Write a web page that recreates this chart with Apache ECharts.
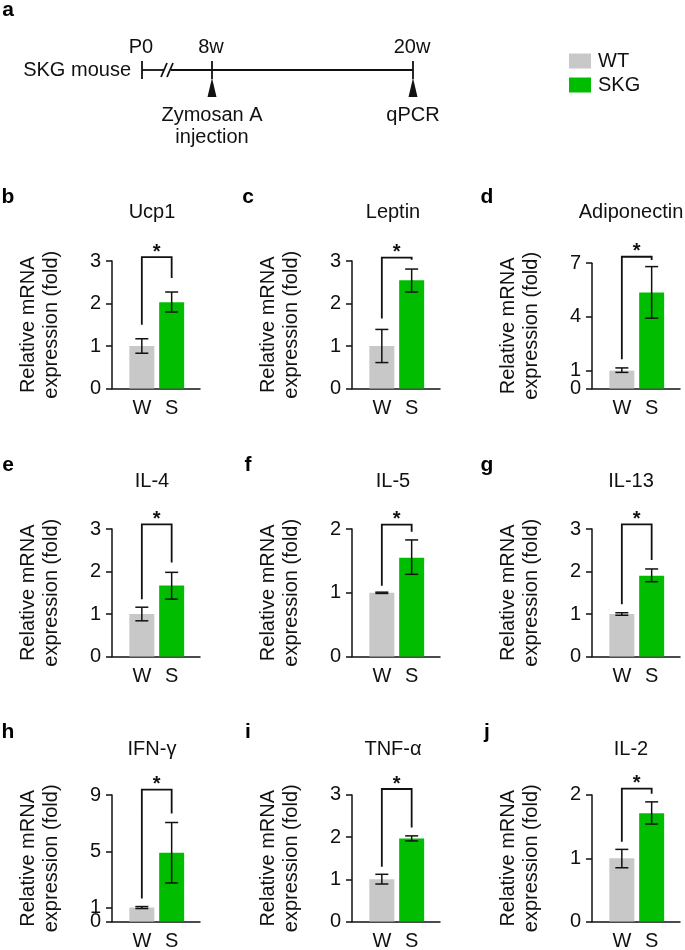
<!DOCTYPE html>
<html>
<head>
<meta charset="utf-8">
<script src="https://cdn.jsdelivr.net/npm/echarts@6/dist/echarts.min.js"></script>
<style>
html,body{margin:0;padding:0;background:#fff;}
#chart{width:685px;height:950px;}
</style>
</head>
<body>
<div id="chart"></div>
<script>
// ---------- data ----------
const genes = ['Ucp1','Leptin','Adiponectin','IL-4','IL-5','IL-13','IFN-γ','TNF-α','IL-2'];
const panelLetters = ['b','c','d','e','f','g','h','i','j'];
const groups = ['WT','SKG'];
const xLabels = ['W','S'];
const wtMean    = [1.00,1.00,1.00,1.00,1.00,1.00,1.00,1.00,1.00];
const wtErrLow  = [0.83,0.61,0.90,0.84,0.99,0.97,0.93,0.89,0.85];
const wtErrHigh = [1.17,1.39,1.15,1.16,1.01,1.03,1.07,1.12,1.14];
const skgMean    = [2.03,2.55,5.36,1.67,1.55,1.90,4.89,1.97,1.71];
const skgErrLow  = [1.80,2.27,3.93,1.35,1.29,1.76,2.75,1.91,1.54];
const skgErrHigh = [2.27,2.81,6.81,1.98,1.83,2.06,7.05,2.03,1.89];
const yMax   = [3,3,7,3,2,3,9,3,2];
const yTicks = [[0,1,2,3],[0,1,2,3],[0,1,4,7],[0,1,2,3],[0,1,2],[0,1,2,3],[0,1,5,9],[0,1,2,3],[0,1,2]];
// significance brackets: top level, left drop end, right drop end
const bracketTop   = [3.09,3.08,7.36,3.11,2.07,3.11,9.39,3.14,2.10];
const bracketLeft  = [1.50,1.65,1.64,1.35,1.11,1.23,1.64,1.30,1.26];
const bracketRight = [2.60,3.03,7.18,2.21,1.96,2.27,7.69,2.23,2.02];

// ---------- layout ----------
const FONT = "'Liberation Sans', Arial, Helvetica, sans-serif";
const FS = 20;
const colLeft = [112,352,592];
const rowBottom = [388.5,656.5,921.6];
const gridH = [127.5,127.5,125.3,127.5,127.4,127.5,126.5,126.7,126.7];
const titleX = [152,393,631];
const titleY = [212,481,749];
const letterX = [8,248,487];
const letterY = [197,465,732];
const GRAY = '#c8c8c8', GREEN = '#00bd00', INK = '#111';

const grids = [], xAxes = [], yAxes = [], series = [], graphics = [];

genes.forEach((g, i) => {
  const c = i % 3, r = Math.floor(i / 3);
  const yi = 2 * i;
  grids.push({left: colLeft[c], top: rowBottom[r] - gridH[i], width: 88, height: gridH[i], outerBoundsMode: 'none', containLabel: false});
  xAxes.push({
    gridIndex: i, type: 'value', min: -1, max: 1.95,
    axisLine: {onZero: false, lineStyle: {color: INK, width: 1.5}},
    axisTick: {show: false}, splitLine: {show: false},
    axisLabel: {customValues: [0,1], formatter: v => xLabels[Math.round(v)], fontSize: FS, color: INK, fontFamily: FONT, margin: 10}
  });
  const upper = yTicks[i].filter(v => v !== 0);
  // main y axis (ticks/labels above zero, axis name)
  yAxes.push({
    gridIndex: i, type: 'value', position: 'left', min: 0, max: yMax[i],
    axisLine: {show: true, onZero: false, lineStyle: {color: INK, width: 1.5}},
    axisTick: {show: true, customValues: upper, length: 6, lineStyle: {color: INK, width: 1.5}},
    axisLabel: {customValues: upper, fontSize: FS, color: INK, fontFamily: FONT, margin: 11},
    splitLine: {show: false},
    name: 'Relative mRNA\nexpression (fold)', nameLocation: 'middle', nameRotate: 90, nameGap: 49,
    nameTextStyle: {fontSize: FS, lineHeight: 23, color: INK, fontFamily: FONT, align: 'center'}
  });
  // companion axis carrying only the zero label (avoids overlap-hiding)
  yAxes.push({
    gridIndex: i, type: 'value', position: 'left', offset: 0, min: 0, max: yMax[i],
    axisLine: {show: false, onZero: false},
    axisTick: {show: true, customValues: [0], length: 6, lineStyle: {color: INK, width: 1.5}},
    axisLabel: {customValues: [0], fontSize: FS, color: INK, fontFamily: FONT, margin: 11},
    splitLine: {show: false}
  });
  series.push({
    name: groups[0], type: 'bar', xAxisIndex: i, yAxisIndex: yi, barWidth: 25, barGap: '-100%',
    itemStyle: {color: GRAY}, data: [[0, wtMean[i]]], silent: true
  });
  series.push({
    name: groups[1], type: 'bar', xAxisIndex: i, yAxisIndex: yi, barWidth: 25, barGap: '-100%',
    itemStyle: {color: GREEN}, data: [[1, skgMean[i]]], silent: true
  });
  series.push({
    type: 'custom', xAxisIndex: i, yAxisIndex: yi, z: 5, silent: true, clip: false,
    encode: {x: 0, y: [1,2]},
    data: [[0, wtErrLow[i], wtErrHigh[i]], [1, skgErrLow[i], skgErrHigh[i]]],
    renderItem: (params, api) => {
      const x = api.value(0);
      const lo = api.coord([x, api.value(1)]);
      const hi = api.coord([x, api.value(2)]);
      const h = 6.5, st = {stroke: INK, lineWidth: 1.5};
      return {type: 'group', children: [
        {type: 'line', shape: {x1: lo[0], y1: lo[1], x2: hi[0], y2: hi[1]}, style: st},
        {type: 'line', shape: {x1: lo[0]-h, y1: lo[1], x2: lo[0]+h, y2: lo[1]}, style: st},
        {type: 'line', shape: {x1: hi[0]-h, y1: hi[1], x2: hi[0]+h, y2: hi[1]}, style: st}
      ]};
    }
  });
  series.push({
    type: 'custom', xAxisIndex: i, yAxisIndex: yi, z: 5, silent: true, clip: false,
    encode: {x: [0,1], y: [2,3,4]},
    data: [[0, 1, bracketLeft[i], bracketRight[i], bracketTop[i]]],
    renderItem: (params, api) => {
      const a = api.coord([api.value(0), api.value(2)]);
      const b = api.coord([api.value(1), api.value(3)]);
      const ta = api.coord([api.value(0), api.value(4)]);
      const tb = api.coord([api.value(1), api.value(4)]);
      return {type: 'group', children: [
        {type: 'polyline', shape: {points: [a, ta, tb, b]}, style: {stroke: INK, lineWidth: 1.8, fill: null}},
        {type: 'text', x: (ta[0] + tb[0]) / 2, y: ta[1] - 5,
         style: {text: '*', fill: INK, fontSize: 20, fontWeight: 'bold', fontFamily: FONT, align: 'center', verticalAlign: 'middle'}}
      ]};
    }
  });
  graphics.push({type: 'text', x: titleX[c], y: titleY[r],
    style: {text: g, fill: INK, fontSize: FS, fontFamily: FONT, align: 'center', verticalAlign: 'middle'}});
  graphics.push({type: 'text', x: letterX[c], y: letterY[r],
    style: {text: panelLetters[i], fill: '#000', fontSize: 21, fontWeight: 'bold', fontFamily: FONT, align: 'center', verticalAlign: 'middle'}});
});

// ---------- panel a: timeline ----------
const tl = {stroke: INK, lineWidth: 1.8};
const txt = (t, x, y, align) => ({type: 'text', x: x, y: y,
  style: {text: t, fill: INK, fontSize: FS, fontFamily: FONT, align: align || 'center', verticalAlign: 'middle'}});
graphics.push(
  {type: 'text', x: 8, y: 10, style: {text: 'a', fill: '#000', fontSize: 21, fontWeight: 'bold', fontFamily: FONT, align: 'center', verticalAlign: 'middle'}},
  txt('SKG mouse', 131, 70, 'right'),
  {type: 'line', shape: {x1: 142, y1: 70, x2: 164, y2: 70}, style: tl},
  {type: 'line', shape: {x1: 161, y1: 77, x2: 167, y2: 63}, style: tl},
  {type: 'line', shape: {x1: 167, y1: 77, x2: 173, y2: 63}, style: tl},
  {type: 'line', shape: {x1: 171, y1: 70, x2: 413, y2: 70}, style: tl},
  {type: 'line', shape: {x1: 142, y1: 61, x2: 142, y2: 79}, style: tl},
  {type: 'line', shape: {x1: 212, y1: 61, x2: 212, y2: 79}, style: tl},
  {type: 'line', shape: {x1: 413, y1: 61, x2: 413, y2: 79}, style: tl},
  {type: 'polygon', shape: {points: [[212,78],[207.5,97],[216.5,97]]}, style: {fill: INK}},
  {type: 'polygon', shape: {points: [[413,78],[408.5,97],[417.5,97]]}, style: {fill: INK}},
  txt('P0', 141, 47), txt('8w', 211, 47), txt('20w', 412, 47),
  txt('Zymosan A', 212, 115), txt('injection', 212, 137), txt('qPCR', 413, 115)
);

const chart = echarts.init(document.getElementById('chart'), null, {renderer: 'canvas'});
chart.setOption({
  backgroundColor: '#fff',
  animation: false,
  textStyle: {fontFamily: FONT},
  legend: {
    data: groups, orient: 'vertical', left: 564, top: 46, icon: 'rect',
    itemWidth: 22, itemHeight: 15, itemGap: 4, selectedMode: false,
    textStyle: {fontSize: FS, color: INK, fontFamily: FONT, lineHeight: 20, padding: [0,0,0,2]}
  },
  grid: grids, xAxis: xAxes, yAxis: yAxes, series: series, graphic: graphics
});
</script>
</body>
</html>
